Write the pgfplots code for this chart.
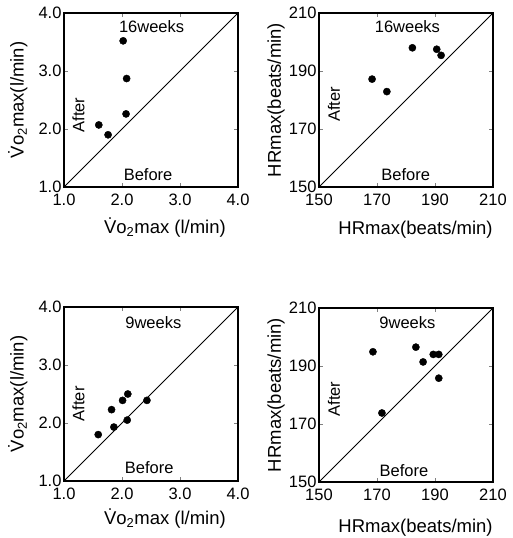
\documentclass[border=0pt]{standalone}
\usepackage{pgfplots}
\pgfplotsset{compat=1.18}
\usepackage{fontspec}
\setmainfont{Liberation Sans}

% Before/after scatter panels with the line of identity
\pgfplotsset{
  panel/.style={
    scale only axis, width=174pt, height=174pt,
    anchor=south west,
    axis line style={line width=1.1pt},
    tick align=inside, tick pos=both,
    major tick length=4pt,
    tick style={line width=0.8pt},
    /pgf/number format/assume math mode=true,
    tick label style={font=\fontsize{16.5}{19}\selectfont},
    xticklabel style={yshift=-3.5pt},
    yticklabel style={xshift=1pt},
    label style={font=\fontsize{18.5}{21}\selectfont},
    clip=false,
  },
  vo2/.style={panel,
    xmin=1, xmax=4, ymin=1, ymax=4,
    xtick={1,2,3,4}, ytick={1,2,3,4},
    xticklabel style={/pgf/number format/.cd, fixed, fixed zerofill, precision=1},
    yticklabel style={/pgf/number format/.cd, fixed, fixed zerofill, precision=1},
    xlabel={\.{V}o\textsubscript{2}max (l/min)},
    ylabel={\.{V}o\textsubscript{2}max(l/min)},
  },
  hr/.style={panel,
    xmin=150, xmax=210, ymin=150, ymax=210,
    xtick={150,170,190,210}, ytick={150,170,190,210},
    xlabel={HRmax(beats/min)},
    ylabel={HRmax(beats/min)},
  },
  pts/.style={only marks, mark=*, mark size=3.6pt, black},
  idline/.style={black, line width=0.9pt, no marks},
}
\tikzset{note/.style={font=\fontsize{16.5}{19}\selectfont}}

\begin{document}
\begin{tikzpicture}
\path[use as bounding box] (0,0) rectangle (512pt,538pt);

% 16 weeks, VO2max
\begin{axis}[vo2, at={(64pt,351pt)},
  xlabel style={at={(axis description cs:0.58,-0.235)}, anchor=center},
  ylabel style={at={(axis description cs:-0.265,0.5)}, anchor=center}]
\addplot[idline] coordinates {(1,1) (4,4)};
\addplot[pts] coordinates {
(2.02,3.52) (2.08,2.87) (2.07,2.26) (1.60,2.07) (1.76,1.90)};
\node[note] at (axis cs:2.51,3.76) {16weeks};
\node[note] at (axis cs:2.45,1.22) {Before};
\node[note, rotate=90] at (axis cs:1.25,2.24) {After};
\end{axis}

% 16 weeks, HRmax
\begin{axis}[hr, at={(319pt,351pt)},
  xlabel style={at={(axis description cs:0.555,-0.245)}, anchor=center},
  ylabel style={at={(axis description cs:-0.247,0.5)}, anchor=center}]
\addplot[idline] coordinates {(150,150) (210,210)};
\addplot[pts] coordinates {
(182.2,198.0) (190.6,197.5) (192.1,195.4) (168.3,187.2) (173.4,182.9)};
\node[note] at (axis cs:180.5,205.2) {16weeks};
\node[note] at (axis cs:179.9,154.4) {Before};
\node[note, rotate=90] at (axis cs:155.2,178.5) {After};
\end{axis}

% 9 weeks, VO2max
\begin{axis}[vo2, at={(64pt,57pt)},
  xlabel style={at={(axis description cs:0.58,-0.215)}, anchor=center},
  ylabel style={at={(axis description cs:-0.265,0.5)}, anchor=center}]
\addplot[idline] coordinates {(1,1) (4,4)};
\addplot[pts] coordinates {
(1.59,1.80) (1.86,1.93) (1.82,2.23) (2.01,2.39) (2.10,2.50) (2.43,2.39) (2.09,2.05)};
\node[note] at (axis cs:2.54,3.73) {9weeks};
\node[note] at (axis cs:2.47,1.23) {Before};
\node[note, rotate=90] at (axis cs:1.25,2.33) {After};
\end{axis}

% 9 weeks, HRmax
\begin{axis}[hr, at={(319pt,56pt)},
  xlabel style={at={(axis description cs:0.555,-0.26)}, anchor=center},
  ylabel style={at={(axis description cs:-0.247,0.5)}, anchor=center}]
\addplot[idline] coordinates {(150,150) (210,210)};
\addplot[pts] coordinates {
(168.6,194.9) (183.4,196.5) (185.9,191.4) (189.4,194.0) (191.3,194.0) (191.3,185.8) (171.7,173.8)};
\node[note] at (axis cs:180.5,204.9) {9weeks};
\node[note] at (axis cs:179.3,153.9) {Before};
\node[note, rotate=90] at (axis cs:155.2,178.6) {After};
\end{axis}
\end{tikzpicture}
\end{document}
